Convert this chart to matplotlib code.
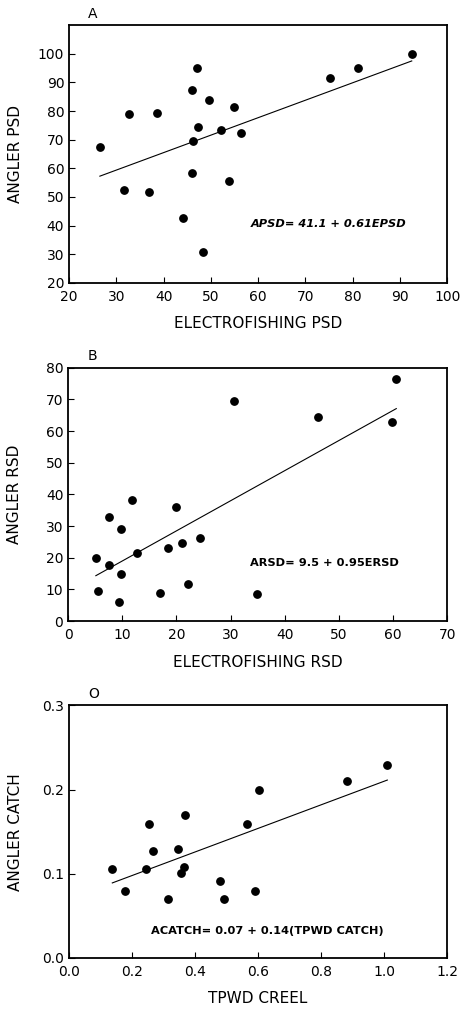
import matplotlib
matplotlib.use("Agg")
import matplotlib.pyplot as plt
import numpy as np

plt.rcParams['font.family'] = ['DejaVu Sans']

# panel A: PSD
psd_e = [26.5, 31.6, 32.7, 36.9, 38.5, 44.1, 45.9, 46.1, 46.3, 47.1,
         47.3, 48.3, 49.5, 52.2, 53.8, 54.8, 56.4, 75.3, 81.1, 92.5]
psd_a = [67.6, 52.5, 78.9, 51.8, 79.2, 42.8, 58.4, 87.3, 69.4, 95.1,
         74.5, 30.7, 84.0, 73.5, 55.4, 81.6, 72.4, 91.4, 94.9, 100.1]

# panel B: RSD
rsd_e = [5.1, 5.5, 7.5, 7.6, 9.4, 9.7, 9.7, 11.7, 12.7, 17.0,
         18.4, 19.9, 21.1, 22.2, 24.4, 30.7, 34.8, 46.1, 59.8, 60.6]
rsd_a = [20.0, 9.4, 32.8, 17.8, 5.9, 29.1, 14.8, 38.2, 21.5, 8.8,
         23.2, 35.9, 24.8, 11.6, 26.2, 69.4, 8.6, 64.3, 62.7, 76.5]

# panel C: catch
creel = [0.137, 0.178, 0.244, 0.252, 0.267, 0.315, 0.345, 0.355, 0.365,
         0.367, 0.480, 0.492, 0.565, 0.590, 0.603, 0.882, 1.010]
catch = [0.106, 0.080, 0.106, 0.159, 0.127, 0.070, 0.130, 0.101, 0.108,
         0.170, 0.091, 0.070, 0.159, 0.080, 0.199, 0.210, 0.229]

panels = [
    dict(x=psd_e, y=psd_a, a=41.1, b=0.61, xlim=(20, 100), ylim=(20, 110),
         xt=np.arange(20, 101, 10), yt=np.arange(20, 101, 10),
         xfmt='%d', yfmt='%d', xl='ELECTROFISHING PSD', yl='ANGLER PSD',
         tag='A', eq='APSD= 41.1 + 0.61EPSD', eqxy=(75.0, 40.7), style='italic',
         rect=[0.150, 0.720, 0.820, 0.255]),
    dict(x=rsd_e, y=rsd_a, a=9.5, b=0.95, xlim=(0, 70), ylim=(0, 80),
         xt=np.arange(0, 71, 10), yt=np.arange(0, 81, 10),
         xfmt='%d', yfmt='%d', xl='ELECTROFISHING RSD', yl='ANGLER RSD',
         tag='B', eq='ARSD= 9.5 + 0.95ERSD', eqxy=(47.4, 18.5), style='normal',
         rect=[0.148, 0.385, 0.822, 0.251]),
    dict(x=creel, y=catch, a=0.07, b=0.14, xlim=(0, 1.2), ylim=(0, 0.3),
         xt=np.arange(0, 1.21, 0.2), yt=np.arange(0, 0.31, 0.1),
         xfmt='%.1f', yfmt='%.1f', xl='TPWD CREEL', yl='ANGLER CATCH',
         tag='O', eq='ACATCH= 0.07 + 0.14(TPWD CATCH)', eqxy=(0.628, 0.0316),
         style='normal', rect=[0.150, 0.0515, 0.820, 0.250]),
]

fig = plt.figure(figsize=(4.61, 10.10), dpi=100)

for p in panels:
    ax = fig.add_axes(p['rect'])
    ax.scatter(p['x'], p['y'], s=28, color='black', zorder=3)
    xs = np.array([min(p['x']), max(p['x'])])
    ax.plot(xs, p['a'] + p['b'] * xs, color='black', lw=0.8)
    ax.set_xlim(*p['xlim'])
    ax.set_ylim(*p['ylim'])
    ax.set_xticks(p['xt'])
    ax.set_yticks(p['yt'])
    ax.set_xticklabels([p['xfmt'] % v for v in p['xt']])
    ax.set_yticklabels([p['yfmt'] % v for v in p['yt']])
    ax.tick_params(direction='in', length=4, width=0.8, labelsize=10)
    ax.tick_params(axis='x', pad=5)
    for s in ax.spines.values():
        s.set_linewidth(1.3)
    ax.set_xlabel(p['xl'], fontsize=11, labelpad=9)
    ax.set_ylabel(p['yl'], fontsize=11)
    ax.yaxis.set_label_coords(-0.122, 0.5)
    ax.text(0.05, 1.03, p['tag'], transform=ax.transAxes, fontsize=10)
    ax.text(p['eqxy'][0], p['eqxy'][1], p['eq'], ha='center', va='center',
            fontsize=8.2, fontweight='bold', fontstyle=p['style'])

fig.savefig('out.png', dpi=100)
